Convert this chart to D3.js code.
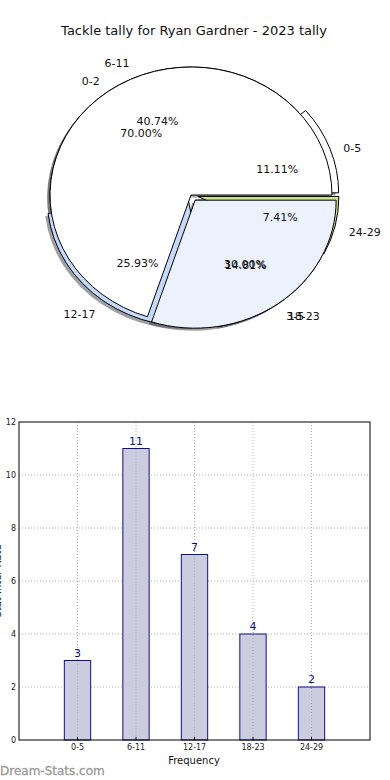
<!DOCTYPE html>
<html><head><meta charset="utf-8">
<script src="https://cdn.jsdelivr.net/npm/d3@7"></script>
<style>body{margin:0;background:#fff;}svg{display:block;font-family:"DejaVu Sans",sans-serif;}</style>
</head><body>
<script>
const title = "Tackle tally for Ryan Gardner - 2023 tally";
const categories = ["0-5","6-11","12-17","18-23","24-29"];
const tallies = [3,11,7,4,2];
const pie1Colors = ["#ffffff","#ffffff","#c6d9fa","#eef3fd","#cbe38f"];
const pie1Explode = [0.05,0,0.035,0.05,0.05];
const pie2Labels = ["0-2","3-5"];
const pie2Values = [70,30];
const pie2Colors = ["#ffffff","#ebf1fd"];
const pie2Explode = [0,0.05];
const yTicks = [0,2,4,6,8,10,12];

const W=390,H=780;
const svg=d3.select("body").append("svg").attr("width",W).attr("height",H);
svg.append("text").attr("x",194).attr("y",35).attr("text-anchor","middle").attr("font-size",13).attr("fill","#111").text(title);

// ---- Pie ----
const cx=191, cy=195, rx=141, ry=128;
const pieGen=d3.pie().sort(null).startAngle(Math.PI/2).endAngle(Math.PI/2-2*Math.PI);
const arc=d3.arc().innerRadius(0).outerRadius(1);
const p1=pieGen(tallies).map((d,i)=>({...d,label:categories[i],color:pie1Colors[i],expl:pie1Explode[i],off:i===1?-3:3,pct:(d.value/d3.sum(tallies)*100).toFixed(2)+"%"}));
const p2=pieGen(pie2Values).map((d,i)=>({...d,label:pie2Labels[i],color:pie2Colors[i],expl:pie2Explode[i],off:i===0?0:2,pct:(d.value/d3.sum(pie2Values)*100).toFixed(2)+"%"}));
const all=p1.concat(p2);
function mid(d){return (d.startAngle+d.endAngle)/2;}
function ux(d,k){return cx+(d.expl+k)*rx*Math.sin(mid(d));}
function uy(d,k){return cy-(d.expl+k)*ry*Math.cos(mid(d));}
const pg=svg.append("g");
// shadows
pg.selectAll("path.sh").data(all).join("path").attr("class","sh")
 .attr("d",arc).attr("transform",d=>`translate(${ux(d,0)-0.02*rx},${uy(d,0)+0.02*ry}) scale(${rx},${ry})`)
 .attr("fill",d=>{const c=d3.rgb(d.color);return d3.rgb(c.r*0.3,c.g*0.3,c.b*0.3);}).attr("fill-opacity",0.5);
// wedges
pg.selectAll("path.w").data(all).join("path").attr("class","w")
 .attr("d",arc).attr("transform",d=>`translate(${ux(d,0)},${uy(d,0)}) scale(${rx},${ry})`)
 .attr("fill",d=>d.color).attr("stroke","#000").attr("stroke-width",1).attr("vector-effect","non-scaling-stroke");
// labels
pg.selectAll("text.l").data(all).join("text").attr("class","l")
 .attr("x",d=>ux(d,1.1)).attr("y",d=>uy(d,1.1)+d.off).attr("dy","0.35em")
 .attr("text-anchor",d=>Math.sin(mid(d))>0?"start":"end").attr("font-size",11).attr("fill","#111").text(d=>d.label);
pg.selectAll("text.p").data(all).join("text").attr("class","p")
 .attr("x",d=>ux(d,0.6)).attr("y",d=>uy(d,0.6)+d.off).attr("dy","0.35em")
 .attr("text-anchor","middle").attr("font-size",11).attr("fill","#111").text(d=>d.pct);

// ---- Bar chart ----
const L=19,R=370,T=422,B=740;
const x=d3.scaleLinear().domain([-1,5]).range([L,R]);
const y=d3.scaleLinear().domain([0,12]).range([B,T]);
const bg=svg.append("g");
const grid="#b0b0b0";
bg.selectAll("line.gy").data(yTicks.slice(1,-1)).join("line").attr("x1",L).attr("x2",R).attr("y1",d=>y(d)).attr("y2",d=>y(d))
 .attr("stroke",grid).attr("stroke-dasharray","1,2");
bg.selectAll("line.gx").data(categories).join("line").attr("x1",(d,i)=>x(i)).attr("x2",(d,i)=>x(i)).attr("y1",T).attr("y2",B)
 .attr("stroke",grid).attr("stroke-dasharray","1,2");
const bw=x(0.45)-x(0);
bg.selectAll("rect.b").data(tallies).join("rect").attr("x",(d,i)=>x(i)-bw/2).attr("width",bw)
 .attr("y",d=>y(d)).attr("height",d=>B-y(d)).attr("fill","#ccccdf").attr("stroke","#10108c").attr("stroke-width",1);
bg.selectAll("line.gx2").data(categories).join("line").attr("x1",(d,i)=>x(i)).attr("x2",(d,i)=>x(i)).attr("y1",(d,i)=>y(tallies[i])+1).attr("y2",B)
 .attr("stroke","#a8a8b8").attr("stroke-dasharray","1,2");
bg.selectAll("text.v").data(tallies).join("text").attr("x",(d,i)=>x(i)).attr("y",d=>y(d)-4)
 .attr("text-anchor","middle").attr("font-size",11).attr("fill","#10108c").text(d=>d);
bg.append("rect").attr("x",L).attr("y",T).attr("width",R-L).attr("height",B-T).attr("fill","none").attr("stroke","#000").attr("stroke-width",1);
bg.selectAll("text.yt").data(yTicks).join("text").attr("x",L-3).attr("y",d=>y(d)).attr("dy","0.35em")
 .attr("text-anchor","end").attr("font-size",8).attr("fill","#222").text(d=>d);
bg.selectAll("text.xt").data(categories).join("text").attr("x",(d,i)=>x(i)).attr("y",B+10)
 .attr("text-anchor","middle").attr("font-size",8).attr("fill","#222").text(d=>d);
bg.selectAll("line.tk").data(categories).join("line").attr("x1",(d,i)=>x(i)).attr("x2",(d,i)=>x(i)).attr("y1",B).attr("y2",B-3).attr("stroke","#000");
bg.append("text").attr("x",194).attr("y",764).attr("text-anchor","middle").attr("font-size",10).attr("fill","#111").text("Frequency");
bg.append("text").attr("transform","translate(1,581) rotate(-90)").attr("text-anchor","middle").attr("font-size",10).attr("fill","#111").text("Stat Inter Rate");
svg.append("text").attr("x",0).attr("y",775).attr("font-size",12).attr("fill","#9a9a9a").attr("stroke","#9a9a9a").attr("stroke-width",0.3).text("Dream-Stats.com");
</script>
</body></html>
